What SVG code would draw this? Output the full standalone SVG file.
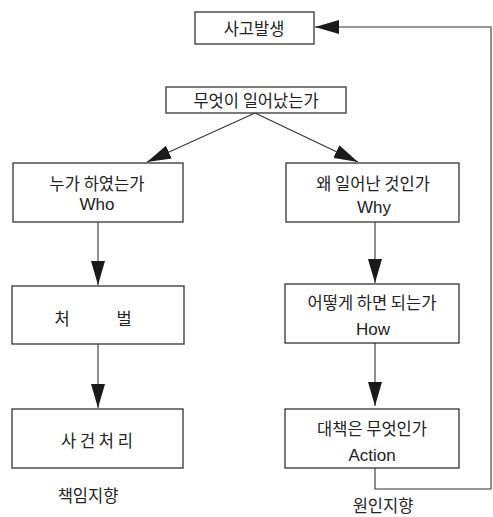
<svg xmlns="http://www.w3.org/2000/svg" width="493" height="517" viewBox="0 0 493 517">
<style>
.box{fill:#fff;stroke:#333;stroke-width:1.3}
.t{font-family:"Noto Sans CJK KR","Noto Sans",sans-serif;font-size:16.5px;fill:#222;text-anchor:middle;dominant-baseline:central}
.e{font-family:"Liberation Sans",Arial,sans-serif;font-size:17px;fill:#222;text-anchor:middle;dominant-baseline:central}
.c{fill:none;stroke:#333;stroke-width:1.1}
</style>
<defs>
<marker id="ah" viewBox="0 0 24 14" refX="24" refY="7" markerWidth="24" markerHeight="14" markerUnits="userSpaceOnUse" orient="auto">
<path d="M0,0 L24,7 L0,14 Z" fill="#1a1a1a"/>
</marker>
</defs>
<rect width="493" height="517" fill="#fff"/>
<g id="connectors">
<line class="c" x1="255" y1="113" x2="147" y2="162" marker-end="url(#ah)"/>
<line class="c" x1="255" y1="113" x2="358" y2="162" marker-end="url(#ah)"/>
<line class="c" x1="98" y1="222" x2="98" y2="285" marker-end="url(#ah)"/>
<line class="c" x1="98" y1="344" x2="98" y2="408" marker-end="url(#ah)"/>
<line class="c" x1="375" y1="222" x2="375" y2="283" marker-end="url(#ah)"/>
<line class="c" x1="375" y1="343" x2="375" y2="406" marker-end="url(#ah)"/>
<polyline class="c" points="375,468 375,489 491,489 491,27 315,27" marker-end="url(#ah)"/>
</g>
<g id="n-accident">
<rect class="box" x="195" y="12" width="119" height="32"/>
<text class="t" x="254" y="28">사고발생</text>
</g>
<g id="n-what">
<rect class="box" x="166" y="87" width="180" height="26"/>
<text class="t" x="256" y="100">무엇이 일어났는가</text>
</g>
<g id="n-who">
<rect class="box" x="13" y="163" width="170" height="59"/>
<text class="t" x="97" y="183">누가 하였는가</text>
<text class="e" x="97" y="204">Who</text>
</g>
<g id="n-punish">
<rect class="box" x="12" y="286" width="172" height="58"/>
<text class="t" x="62" y="318">처</text>
<text class="t" x="124" y="318">벌</text>
</g>
<g id="n-handle">
<rect class="box" x="12" y="409" width="171" height="59"/>
<text class="t" x="97" y="440" xml:space="preserve">사 건 처 리</text>
</g>
<g id="n-why">
<rect class="box" x="286" y="163" width="173" height="59"/>
<text class="t" x="373" y="183">왜 일어난 것인가</text>
<text class="e" x="374" y="207">Why</text>
</g>
<g id="n-how">
<rect class="box" x="285" y="284" width="174" height="59"/>
<text class="t" x="372" y="302">어떻게 하면 되는가</text>
<text class="e" x="373" y="329">How</text>
</g>
<g id="n-action">
<rect class="box" x="285" y="409" width="174" height="59"/>
<text class="t" x="372" y="428">대책은 무엇인가</text>
<text class="e" x="372" y="455">Action</text>
</g>
<g id="labels">
<text class="t" x="88" y="495">책임지향</text>
<text class="t" x="383" y="505">원인지향</text>
</g>
</svg>
